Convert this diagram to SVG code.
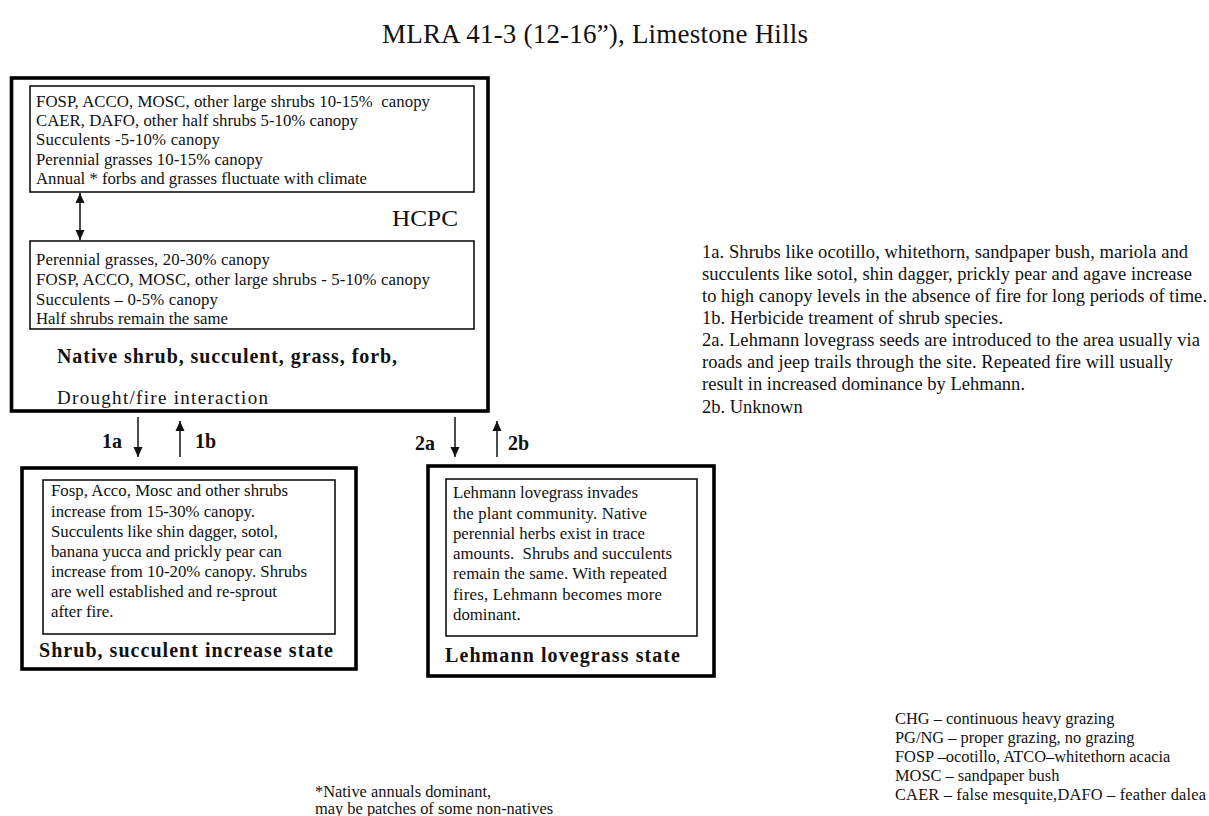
<svg xmlns="http://www.w3.org/2000/svg" width="1209" height="816" viewBox="0 0 1209 816">
<style>
text{font-family:"Liberation Serif","Times New Roman",serif;fill:#111}
.t{font-size:27px}
.b{font-size:16.8px}
.r{font-size:18.5px}
.n{font-size:16.4px}
.h{font-size:20px;font-weight:bold}
.lab{font-size:20px;font-weight:bold}
.outer{fill:none;stroke:#000;stroke-width:3.6}
.inner{fill:none;stroke:#111;stroke-width:1.6}
.conn{stroke:#111;stroke-width:1.5;fill:none}
</style>
<defs>
<marker id="ah" viewBox="0 0 10 10" refX="10" refY="5" markerWidth="10" markerHeight="10" markerUnits="userSpaceOnUse" orient="auto-start-reverse">
<path d="M0,0.5 L10,5 L0,9.5 z" fill="#111"/>
</marker>
</defs>
<rect width="1209" height="816" fill="#fff"/>
<text class="t" x="382" y="43" textLength="426">MLRA 41-3 (12-16”), Limestone Hills</text>

<g id="hcpc">
<rect class="outer" x="11.5" y="78" width="476.5" height="333"/>
<rect class="inner" x="30" y="86" width="444" height="106"/>
<text class="b" x="36" y="107" textLength="394" xml:space="preserve">FOSP, ACCO, MOSC, other large shrubs 10-15%  canopy</text>
<text class="b" x="36" y="126" textLength="322">CAER, DAFO, other half shrubs 5-10% canopy</text>
<text class="b" x="36" y="145" textLength="184">Succulents -5-10% canopy</text>
<text class="b" x="36" y="165" textLength="227">Perennial grasses 10-15% canopy</text>
<text class="b" x="36" y="184" textLength="331">Annual * forbs and grasses fluctuate with climate</text>
<text x="392" y="226" style="font-size:23px" textLength="66" lengthAdjust="spacingAndGlyphs">HCPC</text>
<rect class="inner" x="30" y="241" width="444" height="88"/>
<text class="b" x="36" y="265" textLength="234">Perennial grasses, 20-30% canopy</text>
<text class="b" x="36" y="285" textLength="394">FOSP, ACCO, MOSC, other large shrubs - 5-10% canopy</text>
<text class="b" x="36" y="305" textLength="182">Succulents – 0-5% canopy</text>
<text class="b" x="36" y="324" textLength="192">Half shrubs remain the same</text>
<text class="h" x="57" y="363" textLength="340">Native shrub, succulent, grass, forb,</text>
<text x="57" y="404" style="font-size:19px" textLength="211">Drought/fire interaction</text>
</g>

<g id="shrub-state">
<rect class="outer" x="22" y="468" width="334" height="201"/>
<rect class="inner" x="43" y="480" width="292" height="154"/>
<text class="b" x="51" y="496" textLength="237">Fosp, Acco, Mosc and other shrubs</text>
<text class="b" x="51" y="517" textLength="204">increase from 15-30% canopy.</text>
<text class="b" x="51" y="537" textLength="227">Succulents like shin dagger, sotol,</text>
<text class="b" x="51" y="557" textLength="231">banana yucca and prickly pear can</text>
<text class="b" x="51" y="577" textLength="256">increase from 10-20% canopy. Shrubs</text>
<text class="b" x="51" y="597" textLength="226">are well established and re-sprout</text>
<text class="b" x="51" y="617">after fire.</text>
<text class="h" x="39" y="657" textLength="294">Shrub, succulent increase state</text>
</g>

<g id="lehmann-state">
<rect class="outer" x="428" y="466" width="286" height="210"/>
<rect class="inner" x="446" y="479" width="251" height="157"/>
<text class="b" x="453" y="498" textLength="185">Lehmann lovegrass invades</text>
<text class="b" x="453" y="519" textLength="194">the plant community. Native</text>
<text class="b" x="453" y="539" textLength="192">perennial herbs exist in trace</text>
<text class="b" x="453" y="559" textLength="219" xml:space="preserve">amounts.  Shrubs and succulents</text>
<text class="b" x="453" y="579" textLength="214">remain the same. With repeated</text>
<text class="b" x="453" y="600" textLength="209">fires, Lehmann becomes more</text>
<text class="b" x="453" y="620">dominant.</text>
<text class="h" x="445" y="662" textLength="235">Lehmann lovegrass state</text>
</g>

<g id="connectors">
<line class="conn" x1="80" y1="193" x2="80" y2="240" marker-start="url(#ah)" marker-end="url(#ah)"/>
<line class="conn" x1="138" y1="417" x2="138" y2="457" marker-end="url(#ah)"/>
<line class="conn" x1="180" y1="457" x2="180" y2="421" marker-end="url(#ah)"/>
<line class="conn" x1="455" y1="417" x2="455" y2="457" marker-end="url(#ah)"/>
<line class="conn" x1="497" y1="457" x2="497" y2="421" marker-end="url(#ah)"/>
<text class="lab" x="102" y="448">1a</text>
<text class="lab" x="195" y="448">1b</text>
<text class="lab" x="415" y="450">2a</text>
<text class="lab" x="508" y="450">2b</text>
</g>

<g id="notes">
<text class="r" x="702" y="258" textLength="486">1a. Shrubs like ocotillo, whitethorn, sandpaper bush, mariola and</text>
<text class="r" x="702" y="280" textLength="490">succulents like sotol, shin dagger, prickly pear and agave increase</text>
<text class="r" x="702" y="302" textLength="505">to high canopy levels in the absence of fire for long periods of time.</text>
<text class="r" x="702" y="324" textLength="301">1b. Herbicide treament of shrub species.</text>
<text class="r" x="702" y="346" textLength="498">2a. Lehmann lovegrass seeds are introduced to the area usually via</text>
<text class="r" x="702" y="368" textLength="471">roads and jeep trails through the site. Repeated fire will usually</text>
<text class="r" x="702" y="390" textLength="323">result in increased dominance by Lehmann.</text>
<text class="r" x="702" y="413">2b. Unknown</text>
</g>

<g id="footnote">
<text class="n" x="315" y="797">*Native annuals dominant,</text>
<text class="n" x="315" y="814">may be patches of some non-natives</text>
</g>

<g id="legend">
<text class="n" x="895" y="724">CHG – continuous heavy grazing</text>
<text class="n" x="895" y="743">PG/NG – proper grazing, no grazing</text>
<text class="n" x="895" y="762">FOSP –ocotillo, ATCO–whitethorn acacia</text>
<text class="n" x="895" y="781">MOSC – sandpaper bush</text>
<text class="n" x="895" y="800" textLength="311">CAER – false mesquite,DAFO – feather dalea</text>
</g>
</svg>
